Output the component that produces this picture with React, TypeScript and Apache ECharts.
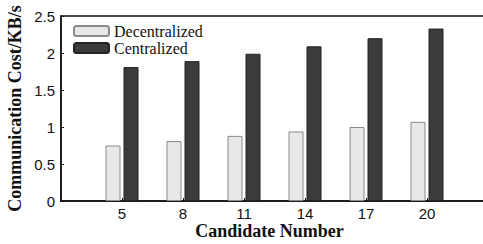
import React, { useEffect, useRef } from "react";
import * as echarts from "echarts";

const categories = ["5", "8", "11", "14", "17", "20"];
const decentralized = [0.75, 0.81, 0.88, 0.94, 1.0, 1.07];
const centralized = [1.81, 1.89, 1.99, 2.09, 2.2, 2.33];
const yTicks = { min: 0, max: 2.5, interval: 0.5 };

export default function App() {
  const ref = useRef<HTMLDivElement>(null);
  useEffect(() => {
    const chart = echarts.init(ref.current!, null, { renderer: "svg" });
    // pad one empty category on each side so that the axis spans 2..23
    const cats = ["", ...categories, " "];
    const pad = (a: number[]) => ["-", ...a, "-"];
    const serif = "'Liberation Serif', 'Times New Roman', serif";
    const sans = "'Liberation Sans', Arial, sans-serif";
    chart.setOption({
      animation: false,
      backgroundColor: "#fff",
      grid: {
        left: 61,
        right: -5,
        top: 16,
        bottom: 43,
        show: true,
        borderColor: "#111",
        borderWidth: 1.5,
        backgroundColor: "transparent",
        containLabel: false,
        outerBoundsMode: "none",
      },
      legend: {
        left: 73,
        top: 23,
        padding: 0,
        orient: "vertical",
        itemWidth: 35,
        itemHeight: 10,
        itemGap: 1,
        textStyle: { fontFamily: serif, fontSize: 16, color: "#111" },
        data: ["Decentralized", "Centralized"],
      },
      xAxis: {
        type: "category",
        data: cats,
        boundaryGap: false,
        name: "Candidate Number",
        nameLocation: "middle",
        nameGap: 21,
        nameMoveOverlap: false,
        nameTextStyle: {
          fontFamily: serif,
          fontSize: 18,
          lineHeight: 18,
          fontWeight: "bold",
          color: "#111",
          padding: [0, 10, 0, 0],
        },
        axisLine: { lineStyle: { color: "#111", width: 1.5 } },
        axisTick: { inside: true, length: 3, lineStyle: { color: "#111" } },
        axisLabel: { fontFamily: sans, fontSize: 15, lineHeight: 12, color: "#111", margin: 6 },
        splitLine: { show: false },
      },
      yAxis: {
        type: "value",
        min: yTicks.min,
        max: yTicks.max,
        interval: yTicks.interval,
        name: "Communication Cost/KB/s",
        nameLocation: "middle",
        nameGap: 37,
        nameMoveOverlap: false,
        nameTextStyle: { fontFamily: serif, fontSize: 18, fontWeight: "bold", color: "#111" },
        axisLine: { show: true, lineStyle: { color: "#111", width: 1.5 } },
        axisTick: { show: true, inside: true, length: 3, lineStyle: { color: "#111" } },
        axisLabel: { fontFamily: sans, fontSize: 15, color: "#111", margin: 6 },
        splitLine: { show: false },
      },
      series: [
        {
          name: "Decentralized",
          type: "bar",
          data: pad(decentralized),
          barWidth: 15,
          barGap: "20%",
          itemStyle: { color: "#e8e8e8", borderColor: "#8a8a8a", borderWidth: 1 },
        },
        {
          name: "Centralized",
          type: "bar",
          data: pad(centralized),
          barWidth: 15,
          itemStyle: { color: "#3b3b3b", borderColor: "#222", borderWidth: 1 },
        },
      ],
    });
    return () => chart.dispose();
  }, []);
  return (
    <div
      ref={ref}
      style={{ position: "absolute", left: 0, top: 0, width: 483, height: 244 }}
    />
  );
}
